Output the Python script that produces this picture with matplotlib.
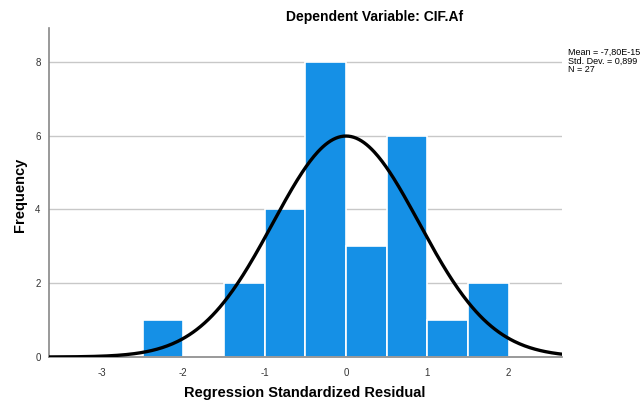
import numpy as np
import matplotlib
matplotlib.use("Agg")
import matplotlib.pyplot as plt

bin_edges = [-2.5, -2.0, -1.5, -1.0, -0.5, 0.0, 0.5, 1.0, 1.5, 2.0]
counts = [1, 0, 2, 4, 8, 3, 6, 1, 2]
mean = -7.80e-15
std = 0.899
n = 27
xticks = [-3, -2, -1, 0, 1, 2]
yticks = [0, 2, 4, 6, 8]

plt.rcParams['font.family'] = ['Liberation Sans', 'DejaVu Sans']
plt.rcParams['axes.unicode_minus'] = False
fig = plt.figure(figsize=(6.43, 4.03), dpi=100)
ax = fig.add_axes([49/643, 46/403, (562-49)/643, (357-28)/403])

ax.set_xlim(-3.652, 2.656)
ax.set_ylim(0, 8.92)
for y in yticks[1:]:
    ax.axhline(y, color='#c8c8c8', lw=1, zorder=0)

lefts = np.array(bin_edges[:-1])
widths = np.diff(bin_edges)
ax.bar(lefts, counts, width=widths, align='edge', color='#1590e6',
       edgecolor='white', linewidth=1.2, zorder=2)

xs = np.linspace(-3.652, 2.656, 400)
bw = bin_edges[1] - bin_edges[0]
ys = n * bw / (std * np.sqrt(2 * np.pi)) * np.exp(-0.5 * ((xs - mean) / std) ** 2)
ax.plot(xs, ys, color='black', lw=2.4, zorder=3)

ax.set_xticks(xticks)
ax.set_yticks(yticks)
ax.tick_params(length=0, labelsize=7, colors='#333333', pad=8)
ax.tick_params(axis='y', pad=6)
for s in ['top', 'right']:
    ax.spines[s].set_visible(False)
for s in ['left', 'bottom']:
    ax.spines[s].set_color('#888888')
    ax.spines[s].set_linewidth(1.2)

fig.text(305/643, 1 - 393/403, 'Regression Standardized Residual', ha='center', va='center',
         fontsize=10.5, fontweight='bold')
fig.text(20/643, 1 - 195/403, 'Frequency', ha='center', va='center', rotation=90,
         fontsize=10.5, fontweight='bold')

fig.text(375/643, 1 - 17/403, 'Dependent Variable: CIF.Af', ha='center', va='center',
         fontsize=10, fontweight='bold')
fig.text(568/643, 1 - 61/403, 'Mean = -7,80E-15\nStd. Dev. = 0,899\nN = 27',
         ha='left', va='center', fontsize=6.5, linespacing=0.95)

fig.savefig('out.png', dpi=100)
